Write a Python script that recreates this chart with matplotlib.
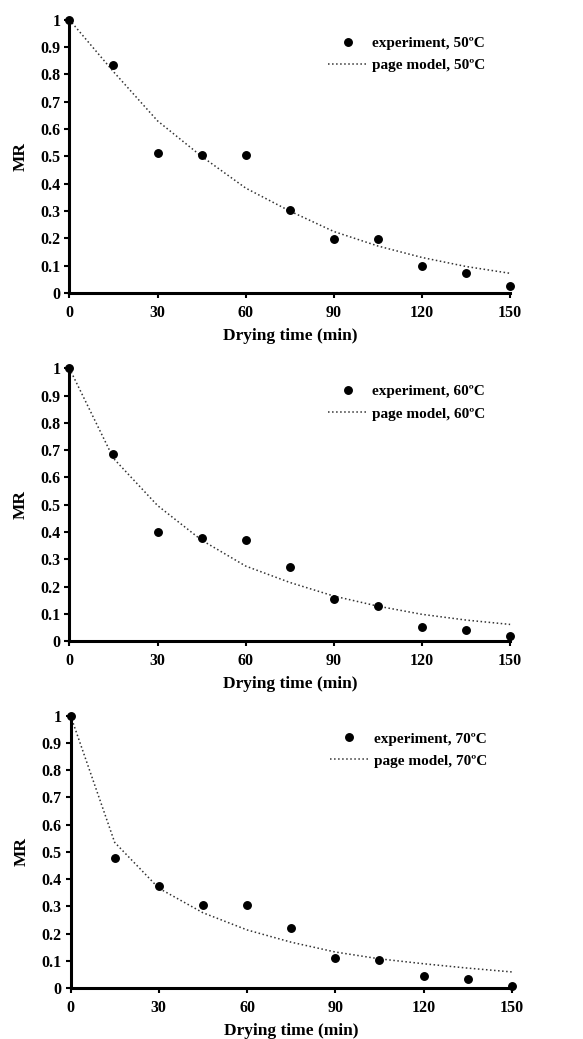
import matplotlib
matplotlib.use('Agg')
import matplotlib.pyplot as plt
import numpy as np

# drying time (min)
time = [0, 15, 30, 45, 60, 75, 90, 105, 120, 135, 150]

# experiment MR values
exp_50 = [1.0, 0.834, 0.513, 0.506, 0.506, 0.302, 0.199, 0.199, 0.097, 0.075, 0.027]
exp_60 = [1.0, 0.685, 0.399, 0.378, 0.370, 0.271, 0.156, 0.127, 0.050, 0.039, 0.018]
exp_70 = [1.0, 0.477, 0.374, 0.304, 0.304, 0.222, 0.110, 0.104, 0.044, 0.033, 0.009]

# page model MR values
model_50 = [1.0, 0.810, 0.630, 0.500, 0.384, 0.300, 0.225, 0.172, 0.130, 0.097, 0.072]
model_60 = [1.0, 0.670, 0.497, 0.370, 0.275, 0.215, 0.165, 0.128, 0.098, 0.077, 0.061]
model_70 = [1.0, 0.535, 0.367, 0.277, 0.214, 0.169, 0.133, 0.108, 0.090, 0.074, 0.060]

temps = ['50', '60', '70']
xticks = [0, 30, 60, 90, 120, 150]
yticks = [0, 0.1, 0.2, 0.3, 0.4, 0.5, 0.6, 0.7, 0.8, 0.9, 1]
yticklabels = ['0', '0.1', '0.2', '0.3', '0.4', '0.5', '0.6', '0.7', '0.8', '0.9', '1']

plt.rcParams['font.family'] = ['Liberation Serif', 'DejaVu Serif']
plt.rcParams['font.weight'] = 'bold'

fig = plt.figure(figsize=(5.83, 10.39), dpi=100)
positions = [[0.119, 0.718, 0.756, 0.263],
             [0.119, 0.383, 0.756, 0.2625],
             [0.121, 0.0488, 0.757, 0.2625]]

exps = [exp_50, exp_60, exp_70]
models = [model_50, model_60, model_70]

for pos, t, e, m in zip(positions, temps, exps, models):
    ax = fig.add_axes(pos)
    ax.plot(time, e, 'o', color='black', markersize=5.4, clip_on=False,
            label='experiment, ' + t + '\u00baC', zorder=3)
    ax.plot(time, m, ':', color='#333333', linewidth=1.1, clip_on=False,
            label='page model, ' + t + '\u00baC')
    ax.set_xlim(0, 150)
    ax.set_ylim(0, 1)
    ax.spines['top'].set_visible(False)
    ax.spines['right'].set_visible(False)
    ax.spines['left'].set_linewidth(2.2)
    ax.spines['bottom'].set_linewidth(2.2)
    ax.set_xticks(xticks)
    ax.set_yticks(yticks)
    ax.set_yticklabels(yticklabels)
    ax.tick_params(axis='both', direction='out', length=3.5, width=1.5,
                   labelsize=11.5)
    ax.tick_params(axis='x', pad=5)
    ax.tick_params(axis='y', pad=3)
    for lab in ax.get_xticklabels() + ax.get_yticklabels():
        lab.set_fontweight('bold')
    ax.set_xlabel('Drying time (min)', fontsize=12.5, fontweight='bold', labelpad=5)
    ax.set_ylabel('MR', fontsize=12.5, fontweight='bold', labelpad=8)
    leg = ax.legend(loc='upper right', bbox_to_anchor=(0.975, 0.99), frameon=False,
                    fontsize=11, handlelength=2.6, handletextpad=0.3,
                    labelspacing=0.55)
    for txt in leg.get_texts():
        txt.set_fontweight('bold')

plt.savefig('out.png', dpi=100)
plt.close()
